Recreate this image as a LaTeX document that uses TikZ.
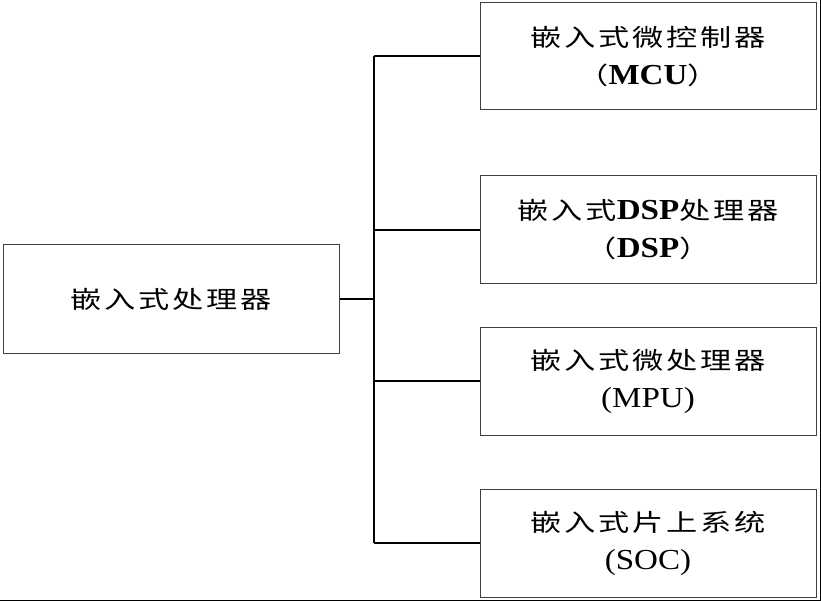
\documentclass[tikz,border=0pt]{standalone}
\usepackage{fontspec}
\usepackage{graphicx}
\setmainfont{Liberation Serif}
\newfontfamily\cjk[FakeStretch=1.3, LetterSpace=12]{Noto Sans CJK SC}
\newfontfamily\cjkp[FakeStretch=1.3]{Noto Sans CJK SC}
\newcommand{\zh}[1]{{\fontsize{24}{38}\cjk #1}}
\newcommand{\zhp}[1]{{\fontsize{24}{38}\cjkp #1}}
\newcommand{\en}[1]{\scalebox{1.14}[1]{#1}}
\tikzset{
  unit/.style={draw=black!75, line width=1pt, minimum width=336pt,
    minimum height=108pt, align=center, inner sep=0pt,
    font=\fontsize{29}{38}\selectfont},
  link/.style={line width=2pt},
}
\begin{document}
\begin{tikzpicture}[x=1pt, y=-1pt]
  \useasboundingbox (0,0) rectangle (821,601);
  % page edges
  \draw[line width=1pt] (820,0) -- (820,600) -- (0,600);
  % boxes
  \node[unit] (proc) at (171,299) {\zh{嵌入式处理器}};
  \node[unit, minimum height=107pt] (mcu) at (648,56.5) {\zh{嵌入式微控制器}\\\zhp{（}\en{\textbf{MCU}}\zhp{）}};
  \node[unit] (dsp) at (648,230) {\zh{嵌入式}\en{\textbf{DSP}}\zh{处理器}\\\zhp{（}\en{\textbf{DSP}}\zhp{）}};
  \node[unit] (mpu) at (648,381) {\zh{嵌入式微处理器}\\\en{(MPU)}};
  \node[unit] (soc) at (648,543) {\zh{嵌入式片上系统}\\\en{(SOC)}};
  % tree lines
  \coordinate (trunk) at (374,299);
  \draw[link] (proc.east) -- (trunk);
  \draw[link] (trunk |- mcu.west) -- (trunk |- soc.west);
  \foreach \n in {mcu, dsp, mpu, soc}
    \draw[link] (trunk |- \n.west) -- (\n.west);
\end{tikzpicture}
\end{document}
